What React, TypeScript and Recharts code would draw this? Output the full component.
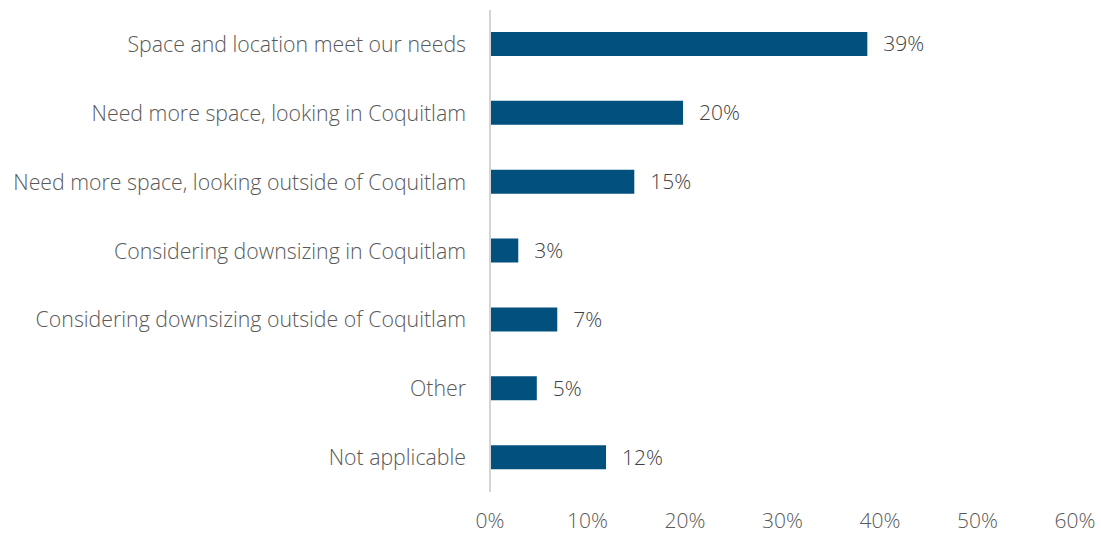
import React from 'react';
import { BarChart, Bar, XAxis, YAxis, LabelList } from 'recharts';

const categories = [
  'Space and location meet our needs',
  'Need more space, looking in Coquitlam',
  'Need more space, looking outside of Coquitlam',
  'Considering downsizing in Coquitlam',
  'Considering downsizing outside of Coquitlam',
  'Other',
  'Not applicable',
];

const shares = [38.7, 19.8, 14.8, 2.9, 6.9, 4.8, 11.9];

const xTicks = [0, 10, 20, 30, 40, 50, 60];

const data = categories.map((name, i) => ({ name, value: shares[i] }));

const FONT = '"Open Sans", sans-serif';

export default function App() {
  return (
    <div style={{ position: 'absolute', left: 0, top: 0, background: '#fff' }}>
      <BarChart
        width={1101}
        height={533}
        data={data}
        layout="vertical"
        margin={{ top: 10, right: 26, bottom: 0, left: 0 }}
        barCategoryGap={0}
      >
        <XAxis
          type="number"
          domain={[0, 60]}
          ticks={xTicks}
          tickFormatter={(v: number) => `${v}%`}
          axisLine={false}
          tickLine={false}
          tickSize={0}
          tickMargin={21}
          interval={0}
          height={41}
          tick={{ fill: '#595959', fontSize: 21, fontFamily: FONT, fontWeight: 300 }}
        />
        <YAxis
          type="category"
          dataKey="name"
          width={490}
          axisLine={{ stroke: '#d4d4d4', strokeWidth: 2 }}
          tickLine={false}
          tickSize={0}
          tickMargin={24}
          interval={0}
          tick={{ fill: '#595959', fontSize: 21.3, fontFamily: FONT, fontWeight: 300 }}
        />
        <Bar dataKey="value" fill="#02507e" barSize={24} isAnimationActive={false}>
          <LabelList
            dataKey="value"
            position="right"
            offset={16}
            formatter={(v: number) => `${Math.round(v)}%`}
            style={{ fill: '#404040', fontSize: 21, fontFamily: FONT, fontWeight: 300 }}
          />
        </Bar>
      </BarChart>
    </div>
  );
}
